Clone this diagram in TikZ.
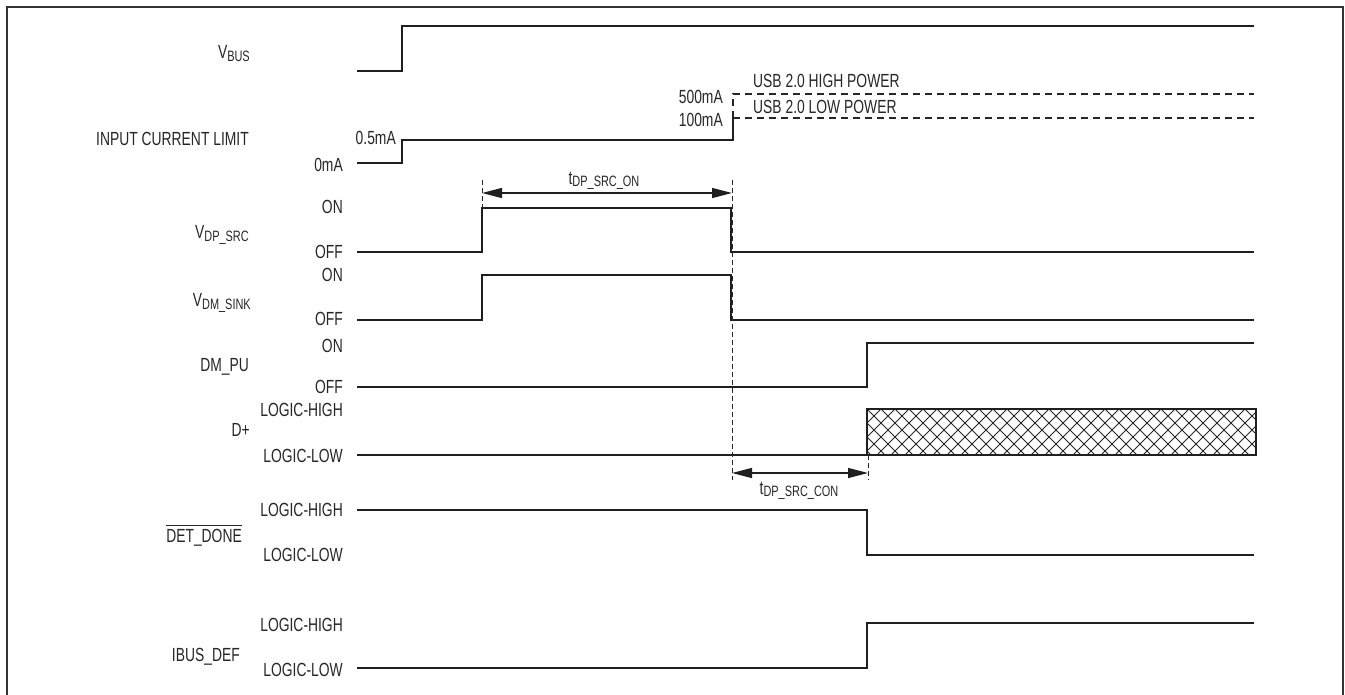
\documentclass[tikz,border=0pt]{standalone}
\usepackage{fontspec}
\setmainfont{Liberation Sans}[FakeStretch=0.73]
\usetikzlibrary{arrows.meta}
\newcommand\sbx[1]{\raisebox{-0.25ex}{\fontsize{15}{16}\selectfont #1}}
\begin{document}
\begin{tikzpicture}[x=1pt,y=-1pt,
  every node/.style={font=\fontsize{19}{21}\selectfont, inner sep=0pt, text=black!85},
  sig/.style={line width=1.4pt, draw=black!88},
  lvl/.style={anchor=base east, yshift=-6.6pt},
  sname/.style={anchor=base east, yshift=-6.6pt},
  lftlbl/.style={anchor=base west, yshift=-6.6pt},
  dsh/.style={line width=1pt, draw=black!85, dash pattern=on 5pt off 3pt},
  pw/.style={line width=1.2pt, draw=black!85, dash pattern=on 7pt off 5pt},
  dimarrow/.style={line width=1.4pt, draw=black!88, {Triangle[length=20pt,width=10pt]}-{Triangle[length=20pt,width=10pt]}}]
\useasboundingbox (0,0) rectangle (1345,694);
% frame
\draw[line width=2pt, draw=black!80] (7,7) rectangle (1343,702);

% signal names
\node[sname] (nvbus) at (250,52) {V\sbx{BUS}};
\node[sname] (nicl) at (249,139) {INPUT CURRENT LIMIT};
\node[sname] (nvdp) at (249,232) {V\sbx{DP\_SRC}};
\node[sname] (nvdm) at (251,300) {V\sbx{DM\_SINK}};
\node[sname] (ndmpu) at (249,365) {DM\_PU};
\node[sname] (ndp) at (250,430) {D+};
\node[sname] (ndet) at (242,536) {DET\_DONE};
\draw[line width=1pt, draw=black!85] ([yshift=3.5pt]ndet.north west) -- ([yshift=3.5pt]ndet.north east);
\node[sname] (nibus) at (240,655) {IBUS\_DEF};

% level labels
\node[lvl] (l05) at (396,138) {0.5mA};
\node[lvl] (l0) at (343,165) {0mA};
\node[lvl] (l500) at (723,97) {500mA};
\node[lvl] (l100) at (723,120) {100mA};
\node[lftlbl] (lhp) at (753,81) {USB 2.0 HIGH POWER};
\node[lftlbl] (llp) at (753,107) {USB 2.0 LOW POWER};
\node[lvl] (dpon) at (343,207) {ON};
\node[lvl] (dpoff) at (343,252) {OFF};
\node[lvl] (dmon) at (343,275) {ON};
\node[lvl] (dmoff) at (343,319) {OFF};
\node[lvl] (puon) at (343,346) {ON};
\node[lvl] (puoff) at (343,387) {OFF};
\node[lvl] (dph) at (343,410) {LOGIC-HIGH};
\node[lvl] (dpl) at (343,456) {LOGIC-LOW};
\node[lvl] (deth) at (343,510) {LOGIC-HIGH};
\node[lvl] (detl) at (343,555) {LOGIC-LOW};
\node[lvl] (ibh) at (343,625) {LOGIC-HIGH};
\node[lvl] (ibl) at (343,670) {LOGIC-LOW};

% waveforms
\draw[sig] (357,71) -- (402,71) -- (402,26) -- (1254,26);
\draw[sig] (357,163) -- (402,163) -- (402,140) -- (733,140) -- (733,118);
\draw[pw] (733,118) -- (733,94) -- (1254,94);
\draw[pw] (733,118) -- (1254,118);
\draw[sig] (357,252) -- (482,252) -- (482,208) -- (731,208) -- (731,252) -- (1254,252);
\draw[sig] (357,320) -- (482,320) -- (482,275) -- (731,275) -- (731,320) -- (1254,320);
\draw[sig] (357,387) -- (867,387) -- (867,343) -- (1254,343);
\draw[sig] (357,455) -- (867,455);
\begin{scope}
\clip (867,409) rectangle (1256,455);
\foreach \i in {-4,...,32} {
  \draw[line width=1pt, draw=black!85] ({867+\i*14},409) -- ++(46,46);
  \draw[line width=1pt, draw=black!85] ({867+\i*14},409) -- ++(-46,46);
}
\end{scope}
\draw[sig] (867,409) rectangle (1256,455);
\draw[sig] (357,510) -- (867,510) -- (867,555) -- (1254,555);
\draw[sig] (357,668) -- (867,668) -- (867,623) -- (1254,623);

% timing markers
\coordinate (a1) at (482,180);
\coordinate (a2) at (482,208);
\coordinate (b1) at (732,180);
\coordinate (b2) at (732,480);
\coordinate (c1) at (868,455);
\coordinate (c2) at (868,480);
\draw[dsh] (a1) -- (a2);
\draw[dsh] (b1) -- (b2);
\draw[dsh] (c1) -- (c2);
\draw[dimarrow] (482,193) -- (732,193);
\draw[dimarrow] (732,473) -- (868,473);
\node[anchor=base] (ton) at (604,184) {t\sbx{DP\_SRC\_ON}};
\node[anchor=base] (tcon) at (799,494) {t\sbx{DP\_SRC\_CON}};
\end{tikzpicture}
\end{document}
